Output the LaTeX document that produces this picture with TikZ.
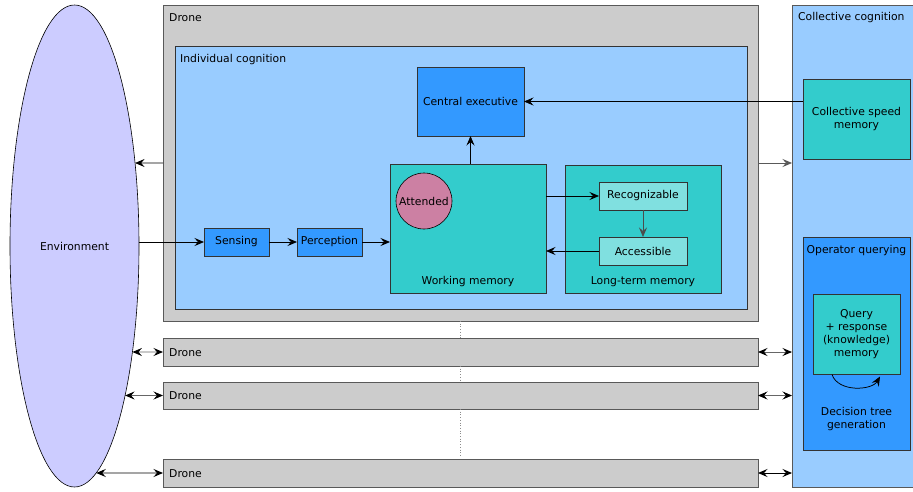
\documentclass[tikz,border=0pt]{standalone}
\usepackage{fontspec}
\setmainfont{DejaVu Sans}
\usetikzlibrary{arrows.meta,shapes.geometric,intersections}

\definecolor{envfill}{HTML}{CCCCFF}
\definecolor{dronefill}{HTML}{CCCCCC}
\definecolor{lightblue}{HTML}{99CCFF}
\definecolor{midblue}{HTML}{3399FF}
\definecolor{tealfill}{HTML}{33CCCC}
\definecolor{lightteal}{HTML}{80E0E0}
\definecolor{rose}{HTML}{CC80A3}
\definecolor{edge}{HTML}{333333}

\tikzset{
  txt/.style={font=\fontsize{10.8pt}{13pt}\selectfont},
  box/.style={rectangle, draw=edge, line width=0.8pt, inner sep=0pt, outer sep=0pt, txt, align=center},
  dronebox/.style={box, fill=dronefill, draw=black!65},
  arr/.style={draw=black, line width=0.75pt, -{Stealth[length=9.5pt,width=8pt,inset=3.5pt]}},
  dblarr/.style={draw=black!60, line width=0.9pt, {Stealth[length=9.5pt,width=8pt,inset=3.5pt,color=black]}-{Stealth[length=9.5pt,width=8pt,inset=3.5pt,color=black]}},
  lbl/.style={txt, inner sep=0pt},
}

\begin{document}
\begin{tikzpicture}[x=1pt, y=-1pt]
\useasboundingbox (0,0) rectangle (913,491);
\clip (0,0) rectangle (913,491);
\fill[white] (0,0) rectangle (913,491);

% environment
\node[ellipse, name path=envb, draw=black, line width=0.6pt, fill=envfill, minimum width=129pt, minimum height=482pt, inner sep=0pt, outer sep=0pt, txt] (env) at (74.5,246) {Environment};

% collective cognition column
\node[box, fill=lightblue, draw=black!65, minimum width=128pt, minimum height=482pt] (coll) at (856,246) {};
\node[lbl, anchor=west] (colllbl) at (798,17.5) {Collective cognition};
\node[box, fill=tealfill, minimum width=107pt, minimum height=80pt] (csm) at (856.5,119) {Collective speed\\memory};
\node[box, fill=midblue, minimum width=107pt, minimum height=213pt] (opq) at (856.5,343.5) {};
\node[lbl] (opqlbl) at (856.5,250.5) {Operator querying};
\node[box, fill=tealfill, minimum width=87pt, minimum height=80pt] (qry) at (856.5,334.5) {Query\\+ response\\(knowledge)\\memory};
\node[lbl, align=center] (dtg) at (856.5,419) {Decision tree\\generation};

% main drone
\node[dronebox, minimum width=595pt, minimum height=316pt] (drone1) at (460.5,163) {};
\node[lbl, anchor=west] (drone1lbl) at (169,17.5) {Drone};
\node[box, fill=lightblue, minimum width=572pt, minimum height=263pt] (indiv) at (461,177.5) {};
\node[lbl, anchor=west] (indivlbl) at (180,59.5) {Individual cognition};

\node[box, fill=midblue, minimum width=107pt, minimum height=69pt] (ce) at (470.5,101.5) {Central executive};
\node[box, fill=tealfill, minimum width=156pt, minimum height=129pt] (wm) at (468,228.5) {};
\node[lbl] (wmlbl) at (468,281.5) {Working memory};
\node[circle, draw=black, line width=0.6pt, fill=rose, minimum size=56pt, inner sep=0pt, txt] (att) at (424,201) {Attended};
\node[box, fill=tealfill, minimum width=156pt, minimum height=128pt] (ltm) at (643,229) {};
\node[lbl] (ltmlbl) at (643,281.5) {Long-term memory};
\node[box, fill=lightteal, minimum width=88pt, minimum height=28pt] (rec) at (643,196) {Recognizable};
\node[box, fill=lightteal, minimum width=88pt, minimum height=28pt] (acc) at (643,251) {Accessible};
\node[box, fill=midblue, minimum width=65pt, minimum height=28pt] (sens) at (236.5,242) {Sensing};
\node[box, fill=midblue, minimum width=65pt, minimum height=28pt] (perc) at (329.5,242) {Perception};

% further drones
\node[dronebox, minimum width=595pt, minimum height=28pt] (d2) at (460.5,352) {};
\node[lbl, anchor=west] (d2lbl) at (169,352.5) {Drone};
\node[dronebox, minimum width=595pt, minimum height=27pt] (d3) at (460.5,395.5) {};
\node[lbl, anchor=west] (d3lbl) at (169,396) {Drone};
\node[dronebox, minimum width=595pt, minimum height=28pt] (d4) at (460.5,473) {};
\node[lbl, anchor=west] (d4lbl) at (169,473.5) {Drone};

% elision between drones
\draw[black!45, dotted, line width=0.7pt] (drone1.south) -- (d2.north);
\draw[black!45, dotted, line width=0.7pt] (d2.south) -- (d3.north);
\draw[black!45, dotted, line width=0.7pt] (d3.south) -- ([yshift=2pt]d4.north);

% horizontal rays meeting the right-hand side of the environment border
\path[name path=ray1] (drone1.west) -- (drone1.west -| env.center);
\path[name path=ray2] (d2.west) -- (d2.west -| env.center);
\path[name path=ray3] (d3.west) -- (d3.west -| env.center);
\path[name path=ray4] (d4.west) -- (d4.west -| env.center);
\path[name intersections={of=envb and ray1, by=e1}];
\path[name intersections={of=envb and ray2, by=e2}];
\path[name intersections={of=envb and ray3, by=e3}];
\path[name intersections={of=envb and ray4, by=e4}];

% flow inside the drone
\draw[arr] (sens.west -| env.east) -- (sens.west);
\draw[arr] (sens.east) -- (perc.west);
\draw[arr] (perc.east) -- (perc.east -| wm.west);
\draw[arr] (ce.south |- wm.north) -- (ce.south);
\draw[arr] (wm.east |- rec.west) -- (rec.west);
\draw[arr, draw=black!70] (rec.south) -- (acc.north);
\draw[arr] (acc.west) -- (acc.west -| wm.east);
\draw[arr] (csm.west |- ce.east) -- (ce.east);
\draw[arr] (drone1.west) -- (e1);
\draw[arr, draw=black!65] (drone1.east) -- (drone1.east -| coll.west);

% drones to environment and collective
\draw[dblarr] (e2) -- (d2.west);
\draw[dblarr] (e3) -- (d3.west);
\draw[dblarr, draw=black] (e4) -- (d4.west);
\draw[dblarr] (d2.east) -- (d2.east -| coll.west);
\draw[dblarr] (d3.east) -- (d3.east -| coll.west);
\draw[dblarr, draw=black] (d4.east) -- (d4.east -| coll.west);

% decision tree loop
\coordinate (qs) at ([xshift=19pt]qry.south west);
\coordinate (qe) at ([xshift=67pt,yshift=-2pt]qry.south west);
\draw[arr] (qs) .. controls +(6,18) and +(-8,14) .. (qe);
\end{tikzpicture}
\end{document}
